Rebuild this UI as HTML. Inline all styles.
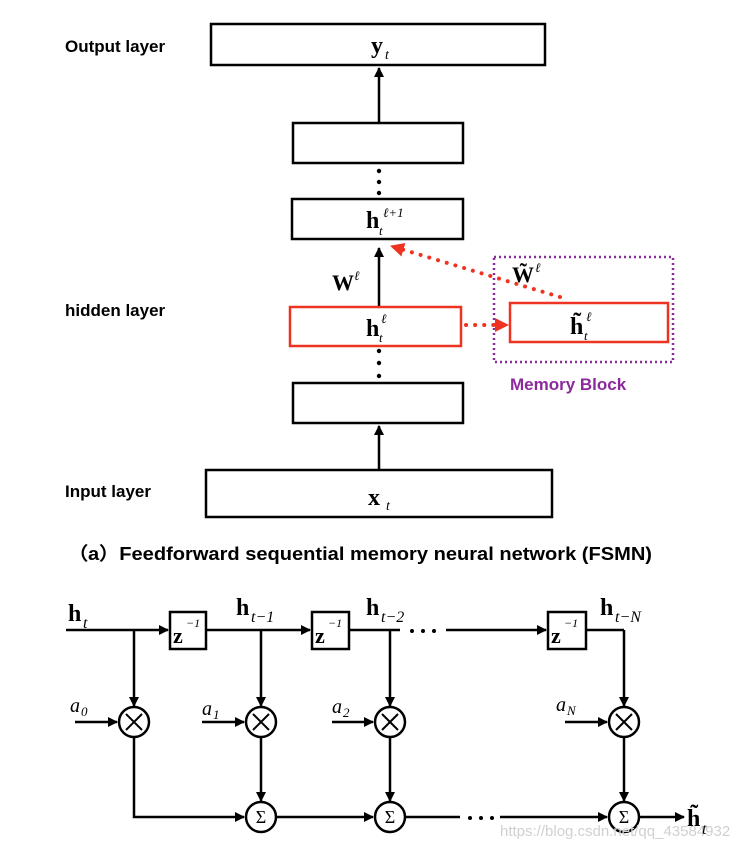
<!DOCTYPE html>
<html><head><meta charset="utf-8"><style>
html,body{margin:0;padding:0;background:#fff;}
svg{display:block;}
.lab{font-family:"Liberation Sans",sans-serif;font-weight:bold;font-size:17px;fill:#000;}
.m{font-family:"Liberation Serif",serif;font-weight:bold;fill:#000;}
.i{font-family:"Liberation Serif",serif;font-style:italic;fill:#000;}
</style></head><body>
<svg width="750" height="846" viewBox="0 0 750 846" xmlns="http://www.w3.org/2000/svg">
<defs>
<marker id="a" markerWidth="10" markerHeight="10" refX="9" refY="5" orient="auto" markerUnits="userSpaceOnUse"><path d="M0,0 L10,5 L0,10 z" fill="#000"/></marker>
<marker id="r" markerWidth="14" markerHeight="14" refX="13" refY="7" orient="auto" markerUnits="userSpaceOnUse"><path d="M0,0 L14,7 L0,14 z" fill="#ee3322"/></marker>
</defs>
<g fill="none" stroke="#000" stroke-width="2.5">
<rect x="211" y="24" width="334" height="41"/>
<rect x="293" y="123" width="170" height="40"/>
<rect x="292" y="199" width="171" height="40"/>
<rect x="293" y="383" width="170" height="40"/>
<rect x="206" y="470" width="346" height="47"/>
</g>
<g stroke="#000" stroke-width="2.5" fill="none">
<line x1="379" y1="123" x2="379" y2="68" marker-end="url(#a)"/>
<line x1="379" y1="307" x2="379" y2="248" marker-end="url(#a)"/>
<line x1="379" y1="470" x2="379" y2="426" marker-end="url(#a)"/>
</g>
<g fill="#000">
<circle cx="379" cy="171" r="2.2"/><circle cx="379" cy="182" r="2.2"/><circle cx="379" cy="193" r="2.2"/>
<circle cx="379" cy="351" r="2.2"/><circle cx="379" cy="363" r="2.2"/><circle cx="379" cy="376" r="2.2"/>
</g>
<rect x="290" y="307" width="171" height="39" fill="none" stroke="#ee3322" stroke-width="2.5"/>
<rect x="510" y="303" width="158" height="39" fill="none" stroke="#ee3322" stroke-width="2.5"/>
<rect x="494" y="257" width="179" height="105" fill="none" stroke="#8b2a9a" stroke-width="2.5" stroke-dasharray="2,3"/>
<line x1="466" y1="325" x2="508" y2="325" stroke="#ee3322" stroke-width="4" stroke-dasharray="0.1,9" stroke-linecap="round" marker-end="url(#r)"/>
<line x1="560" y1="297" x2="391" y2="246" stroke="#ee3322" stroke-width="4" stroke-dasharray="0.1,9" stroke-linecap="round" marker-end="url(#r)"/>
<text class="lab" x="65" y="52">Output layer</text>
<text class="lab" x="65" y="316">hidden layer</text>
<text class="lab" x="65" y="497">Input layer</text>
<text x="510" y="390" style="font-family:'Liberation Sans',sans-serif;font-weight:bold;font-size:17px;fill:#8b2a9a">Memory  Block</text>
<text class="lab" x="68" y="560" style="font-size:18px" textLength="584" lengthAdjust="spacingAndGlyphs">（a）Feedforward sequential memory neural network (FSMN)</text>
<text class="m" x="371" y="53" font-size="24">y</text><text class="i" x="385" y="59" font-size="14">t</text>
<text class="m" x="366" y="228" font-size="24">h</text><text class="i" x="379" y="235" font-size="13">t</text><text class="i" x="383" y="217" font-size="13">ℓ+1</text>
<text class="m" x="366" y="336" font-size="24">h</text><text class="i" x="379" y="342" font-size="13">t</text><text class="i" x="381" y="323" font-size="13">ℓ</text>
<text class="m" x="570" y="334" font-size="24">h̃</text><text class="i" x="584" y="340" font-size="13">t</text><text class="i" x="586" y="321" font-size="13">ℓ</text>
<text class="m" x="332" y="290" font-size="22">W</text><text class="i" x="354" y="280" font-size="13">ℓ</text>
<text class="m" x="512" y="282" font-size="22">W̃</text><text class="i" x="535" y="272" font-size="13">ℓ</text>
<text class="m" x="368" y="505" font-size="24">x</text><text class="i" x="386" y="510" font-size="14">t</text>
<g stroke="#000" stroke-width="2.5" fill="none">
<line x1="66" y1="630" x2="168" y2="630" marker-end="url(#a)"/>
<line x1="206" y1="630" x2="310" y2="630" marker-end="url(#a)"/>
<line x1="349" y1="630" x2="400" y2="630"/>
<line x1="446" y1="630" x2="546" y2="630" marker-end="url(#a)"/>
<line x1="586" y1="630" x2="624" y2="630"/>
<rect x="170" y="612" width="36" height="37"/>
<rect x="312" y="612" width="37" height="37"/>
<rect x="548" y="612" width="38" height="37"/>
<line x1="134" y1="630" x2="134" y2="706" marker-end="url(#a)"/>
<line x1="261" y1="630" x2="261" y2="706" marker-end="url(#a)"/>
<line x1="390" y1="630" x2="390" y2="706" marker-end="url(#a)"/>
<line x1="624" y1="630" x2="624" y2="706" marker-end="url(#a)"/>
<line x1="75" y1="722" x2="117" y2="722" marker-end="url(#a)"/>
<line x1="202" y1="722" x2="244" y2="722" marker-end="url(#a)"/>
<line x1="332" y1="722" x2="373" y2="722" marker-end="url(#a)"/>
<line x1="565" y1="722" x2="607" y2="722" marker-end="url(#a)"/>
<circle cx="134" cy="722" r="15"/><circle cx="261" cy="722" r="15"/><circle cx="390" cy="722" r="15"/><circle cx="624" cy="722" r="15"/>
<line x1="261" y1="737" x2="261" y2="801" marker-end="url(#a)"/>
<line x1="390" y1="737" x2="390" y2="801" marker-end="url(#a)"/>
<line x1="624" y1="737" x2="624" y2="801" marker-end="url(#a)"/>
<polyline points="134,737 134,817 244,817" marker-end="url(#a)"/>
<line x1="276" y1="817" x2="373" y2="817" marker-end="url(#a)"/>
<line x1="405" y1="817" x2="460" y2="817"/>
<line x1="500" y1="817" x2="607" y2="817" marker-end="url(#a)"/>
<line x1="639" y1="817" x2="684" y2="817" marker-end="url(#a)"/>
<circle cx="261" cy="817" r="15"/><circle cx="390" cy="817" r="15"/><circle cx="624" cy="817" r="15"/>
<g stroke-width="2"><path d="M126,714 L142,730 M142,714 L126,730 M253,714 L269,730 M269,714 L253,730 M382,714 L398,730 M398,714 L382,730 M616,714 L632,730 M632,714 L616,730"/></g>
</g>
<g fill="#000"><circle cx="412" cy="631" r="2"/><circle cx="423" cy="631" r="2"/><circle cx="434" cy="631" r="2"/>
<circle cx="470" cy="818" r="2"/><circle cx="481" cy="818" r="2"/><circle cx="492" cy="818" r="2"/></g>
<g font-family="Liberation Serif,serif" font-size="18" text-anchor="middle" fill="#000">
<text x="261" y="823">Σ</text><text x="390" y="823">Σ</text><text x="624" y="823">Σ</text></g>
<text class="m" x="173" y="643" font-size="22">z</text><text class="i" x="186" y="627" font-size="12">−1</text>
<text class="m" x="315" y="643" font-size="22">z</text><text class="i" x="328" y="627" font-size="12">−1</text>
<text class="m" x="551" y="643" font-size="22">z</text><text class="i" x="564" y="627" font-size="12">−1</text>
<text class="m" x="68" y="621" font-size="24">h</text><text class="i" x="83" y="628" font-size="16">t</text>
<text class="m" x="236" y="615" font-size="24">h</text><text class="i" x="251" y="622" font-size="16">t−1</text>
<text class="m" x="366" y="615" font-size="24">h</text><text class="i" x="381" y="622" font-size="16">t−2</text>
<text class="m" x="600" y="615" font-size="24">h</text><text class="i" x="615" y="622" font-size="16">t−N</text>
<text class="i" x="70" y="712" font-size="20">a</text><text class="i" x="81" y="716" font-size="13">0</text>
<text class="i" x="202" y="715" font-size="20">a</text><text class="i" x="213" y="719" font-size="13">1</text>
<text class="i" x="332" y="713" font-size="20">a</text><text class="i" x="343" y="717" font-size="13">2</text>
<text class="i" x="556" y="711" font-size="20">a</text><text class="i" x="567" y="715" font-size="13">N</text>
<text x="500" y="836" style="font-family:'Liberation Sans',sans-serif;font-size:15px;fill:#d0d0d0">https://blog.csdn.net/qq_43584932</text>
<text class="m" x="687" y="826" font-size="24">h̃</text><text class="i" x="702" y="834" font-size="16">t</text>
</svg>
</body></html>
